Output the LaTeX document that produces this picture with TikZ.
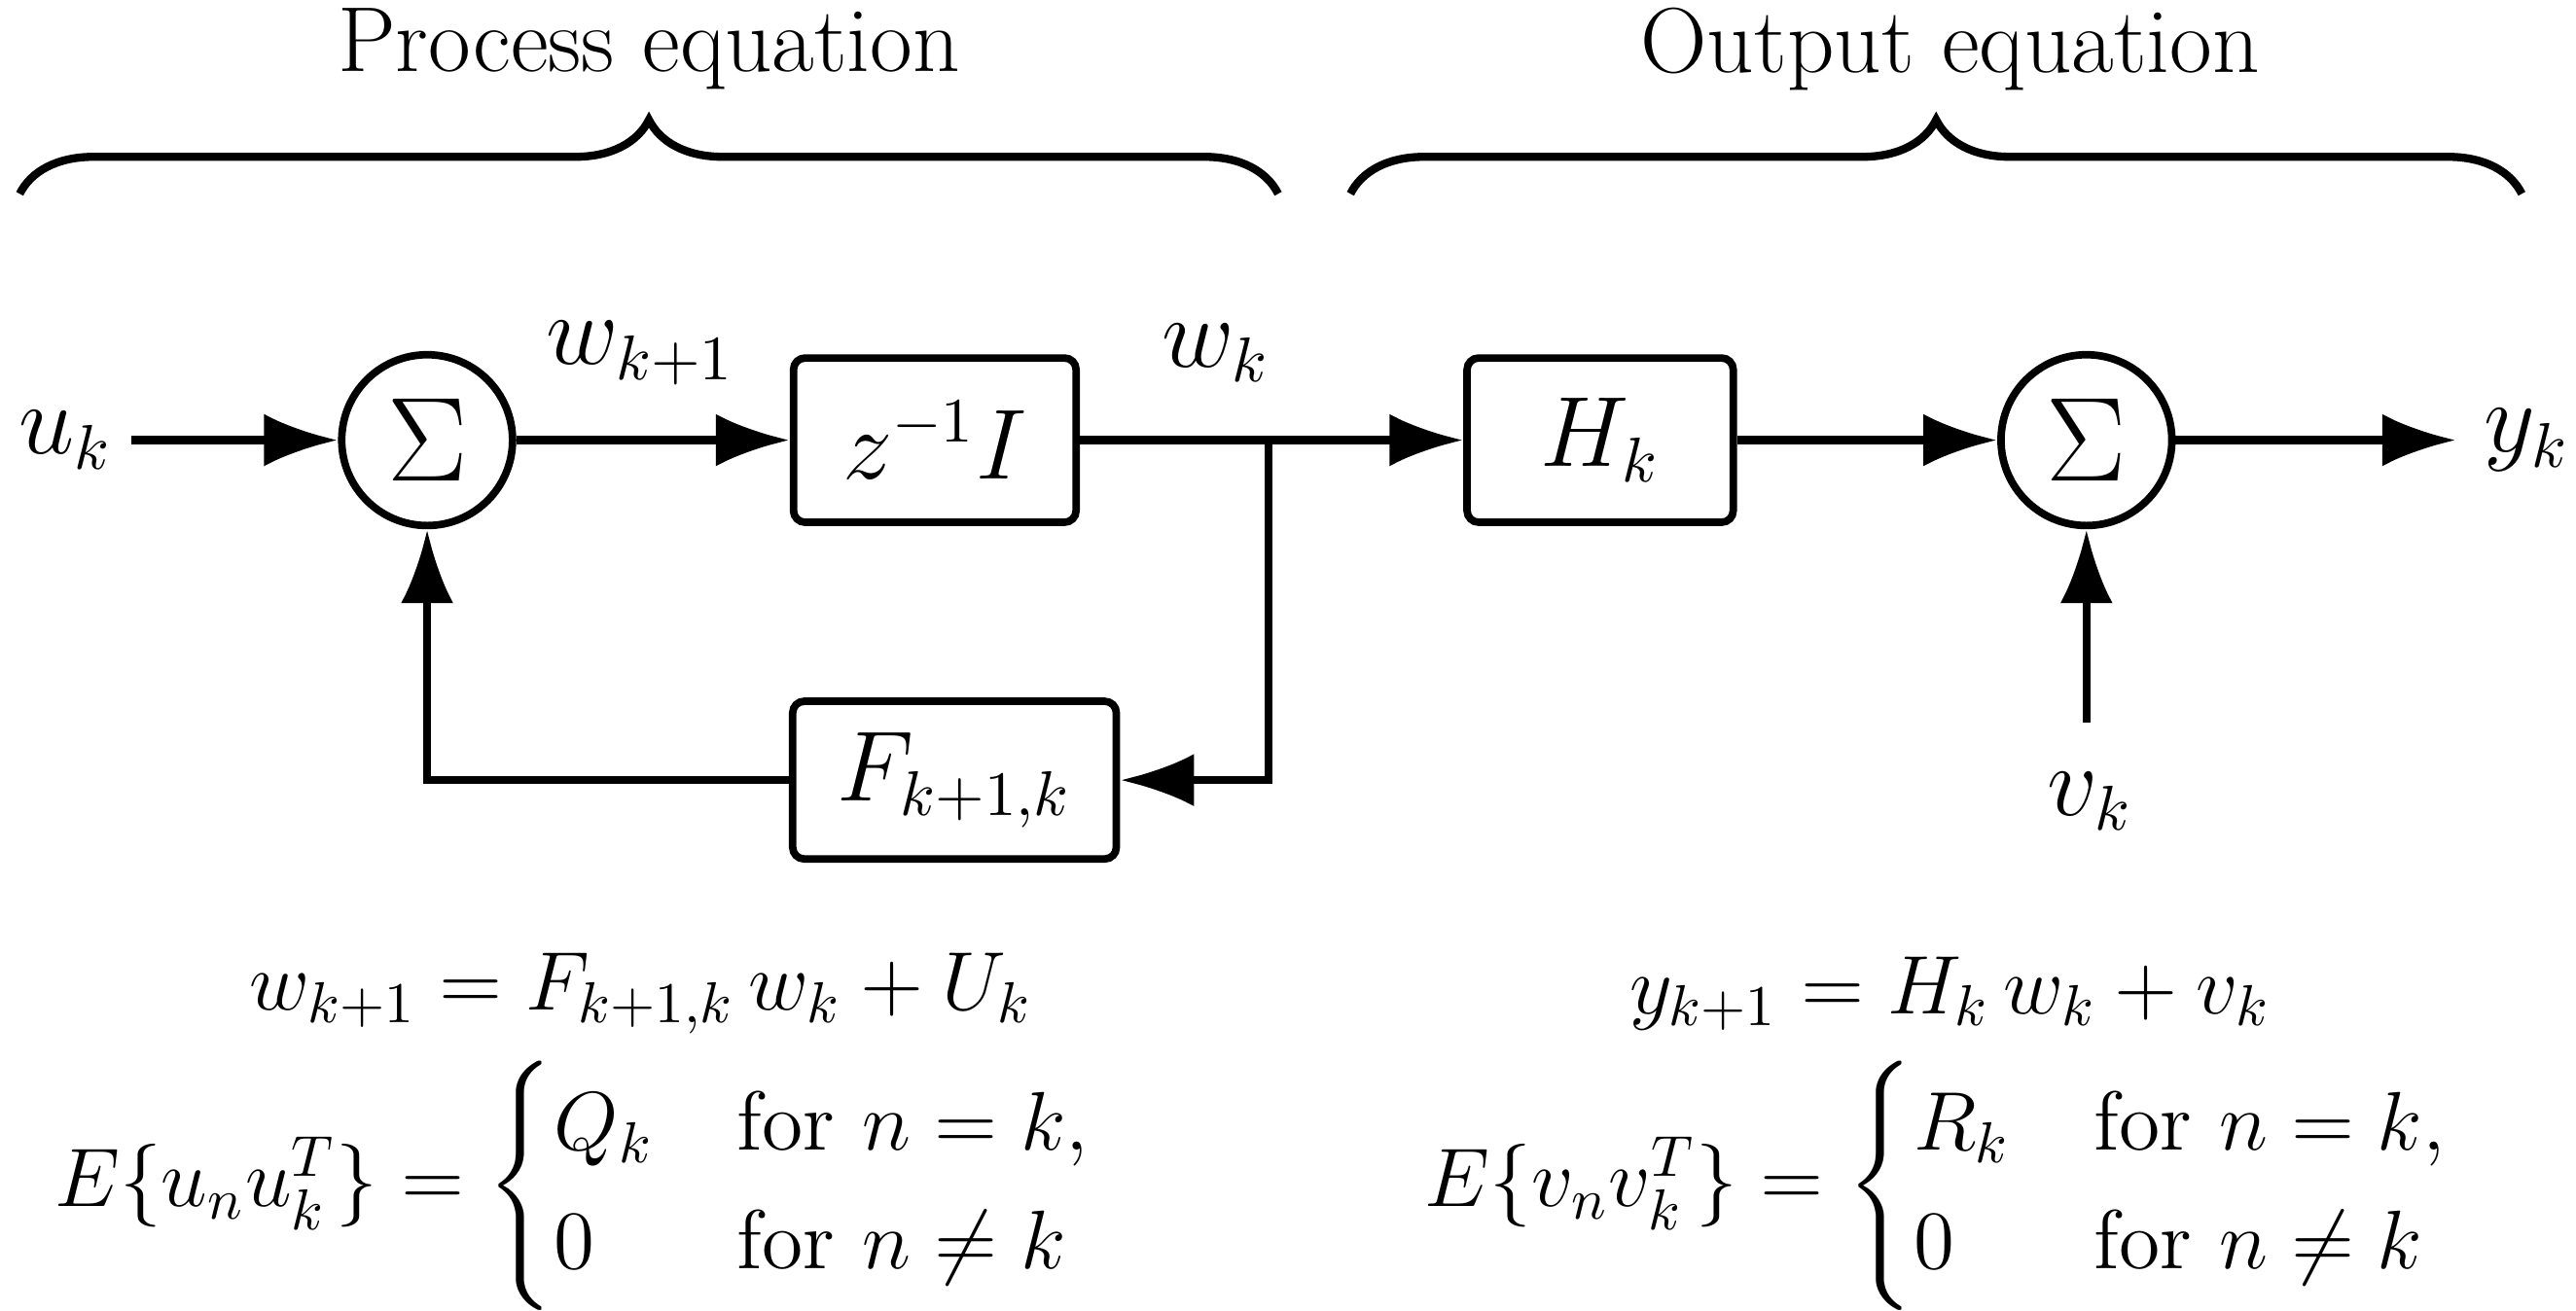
\documentclass[tikz,border=0pt]{standalone}
\usepackage{amsmath}
\usetikzlibrary{arrows.meta,positioning,decorations.pathreplacing}
\tikzset{
  textonly/.style={draw=none, fill=none, text centered, font=\fontsize{16}{19}\selectfont},
  eqtext/.style={draw=none, fill=none, text centered, font=\fontsize{14.5}{17}\selectfont},
  block/.style={draw, line width=1.3pt, rounded corners=2pt, minimum height=1.0cm, font=\fontsize{16}{19}\selectfont},
  summer/.style={draw, circle, line width=1.3pt, minimum size=1.04cm, inner sep=0pt, font=\fontsize{22}{24}\selectfont},
  tedge/.style={draw, line width=1.4pt, -{Latex[length=4.5mm,width=3.2mm]}},
  tline/.style={draw, line width=1.4pt},
  tbrace/.style={draw, line width=1.4pt, decorate, decoration={brace, amplitude=0.45cm}}
}
\begin{document}
\begin{tikzpicture}
\useasboundingbox (0,0) rectangle (15.68,7.98);

\node[summer] (sum1) at (2.60,5.30) {$\Sigma$};
\node[block, minimum width=1.72cm] (delay) at (5.69,5.30) {$z^{-1}I$};
\coordinate (branch) at (7.72,5.30);
\node[block, minimum width=1.62cm] (hk) at (9.74,5.30) {$H_k$};
\node[summer] (sum2) at (12.70,5.30) {$\Sigma$};
\node[block, minimum width=1.97cm, minimum height=0.96cm] (fk) at (5.81,3.23) {$F_{k+1,k}$};

\node[textonly] (uk) at (0.40,5.30) {$u_k$};
\coordinate (ukstart) at (0.80,5.30);
\coordinate (ykend) at (14.95,5.30);
\node[textonly] (yk) at (15.38,5.30) {$y_k$};
\node[textonly] (vk) at (12.72,3.10) {$v_k$};
\coordinate (vkstart) at (12.70,3.58);
\coordinate (fbcorner) at (7.72,3.23);
\coordinate (sumcorner) at (2.60,3.23);

\node[textonly] (wk1) at (3.90,5.83) {$w_{k+1}$};
\node[textonly] (wk) at (7.40,5.83) {$w_k$};

\path[tedge] (ukstart) -- (sum1);
\path[tedge] (sum1) -- (delay);
\path[tline] (delay) -- (branch);
\path[tedge] (branch) -- (hk);
\path[tedge] (hk) -- (sum2);
\path[tedge] (sum2) -- (ykend);
\path[tedge] (vkstart) -- (sum2);
\path[tedge] (branch) -- (fbcorner) -- (fk);
\path[tedge] (fk) -- (sumcorner) -- (sum1);

% braces
\path[tbrace] (0.12,6.80) -- (7.78,6.80);
\path[tbrace] (8.22,6.80) -- (15.35,6.80);
\node[textonly] (proc) at (3.95,7.68) {Process equation};
\node[textonly] (outp) at (11.87,7.68) {Output equation};

% equations
\node[eqtext] (eqw) at (3.90,1.93) {$w_{k+1} = F_{k+1,k}\,w_k + U_k$};
\node[eqtext] (eqy) at (11.87,1.93) {$y_{k+1} = H_k\,w_k + v_k$};
\node[eqtext] (covq) at (3.50,0.76) {$E\{u_n u_k^T\} = \begin{cases} Q_k & \text{for } n = k,\\ 0 & \text{for } n \neq k \end{cases}$};
\node[eqtext] (covr) at (11.80,0.76) {$E\{v_n v_k^T\} = \begin{cases} R_k & \text{for } n = k,\\ 0 & \text{for } n \neq k \end{cases}$};

\end{tikzpicture}
\end{document}
